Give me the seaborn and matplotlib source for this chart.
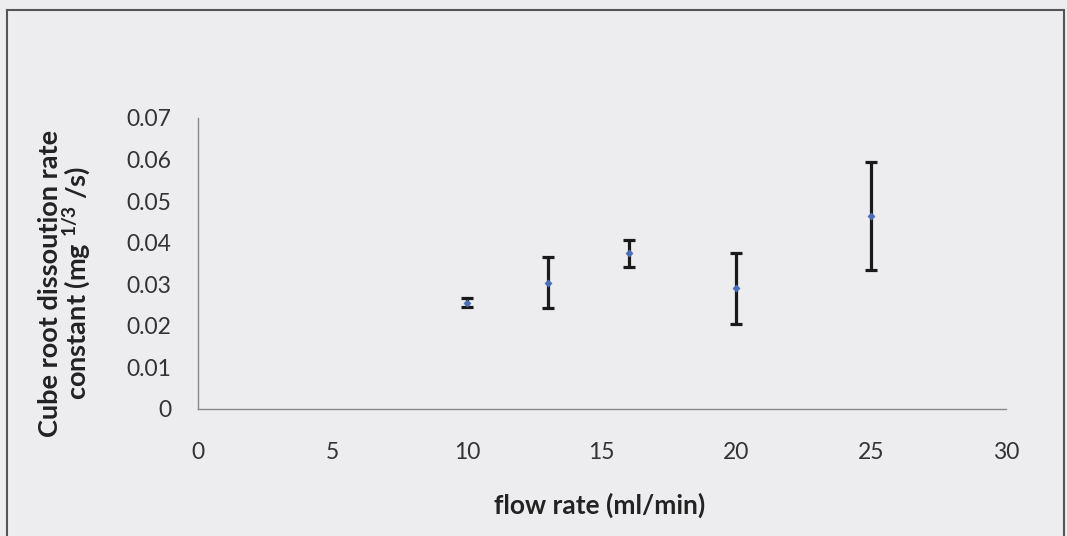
import matplotlib
matplotlib.use("Agg")
import matplotlib.pyplot as plt
from matplotlib.patches import Rectangle
import seaborn as sns
import pandas as pd

flow_rate = [10, 13, 16, 20, 25]
rate_constant = [0.0256, 0.0304, 0.0374, 0.0290, 0.0465]
error = [0.0010, 0.0062, 0.0032, 0.0086, 0.0130]
x_ticks = [0, 5, 10, 15, 20, 25, 30]
y_ticks = [0, 0.01, 0.02, 0.03, 0.04, 0.05, 0.06, 0.07]
y_tick_labels = ["0", "0.01", "0.02", "0.03", "0.04", "0.05", "0.06", "0.07"]

df = pd.DataFrame({"flow": flow_rate, "k": rate_constant, "err": error})

sns.set_style("white")
plt.rcParams["font.family"] = ["Lato", "DejaVu Sans"]

bg = "#ededef"
fig = plt.figure(figsize=(10.67, 5.36), dpi=100, facecolor=bg)
ax = fig.add_axes([0.1853, 0.237, 0.7573, 0.543])
ax.set_facecolor(bg)

# outer chart frame
fig.patches.append(Rectangle((7 / 1067, -0.05), 1057 / 1067, 1.05 - 10.5 / 536,
                             transform=fig.transFigure, fill=False,
                             edgecolor="#555555", linewidth=1.5))

ax.errorbar(df["flow"], df["k"], yerr=df["err"], fmt="none", ecolor="#1a1a1a",
            elinewidth=2.3, capsize=4.5, capthick=2.3, zorder=2)
sns.scatterplot(data=df, x="flow", y="k", marker="D", s=14, color="#4a6fb8",
                edgecolor="#4a6fb8", ax=ax, zorder=3)

ax.set_xlim(0, 30)
ax.set_ylim(0, 0.07)
ax.set_xticks(x_ticks)
ax.set_yticks(y_ticks)
ax.set_yticklabels(y_tick_labels)
ax.tick_params(axis="both", labelsize=16.5, colors="#888888", labelcolor="#333333",
               length=7, width=1, direction="out")
ax.tick_params(axis="x", pad=17)
ax.tick_params(axis="y", pad=12)

for side in ["top", "right"]:
    ax.spines[side].set_visible(False)
for side in ["left", "bottom"]:
    ax.spines[side].set_color("#888888")
    ax.spines[side].set_linewidth(1)

ax.set_xlabel("flow rate (ml/min)", fontsize=19, fontweight="bold", color="#222222")
ax.set_ylabel("Cube root dissoution rate\nconstant (mg $^{\\mathregular{1/3}}$ /s)",
              fontsize=19.5, fontweight="bold", color="#222222", linespacing=0.92)
ax.xaxis.set_label_coords(0.498, -0.289)
ax.yaxis.set_label_coords(-0.131, 0.433)

fig.savefig("out.png", dpi=100, facecolor=bg)
